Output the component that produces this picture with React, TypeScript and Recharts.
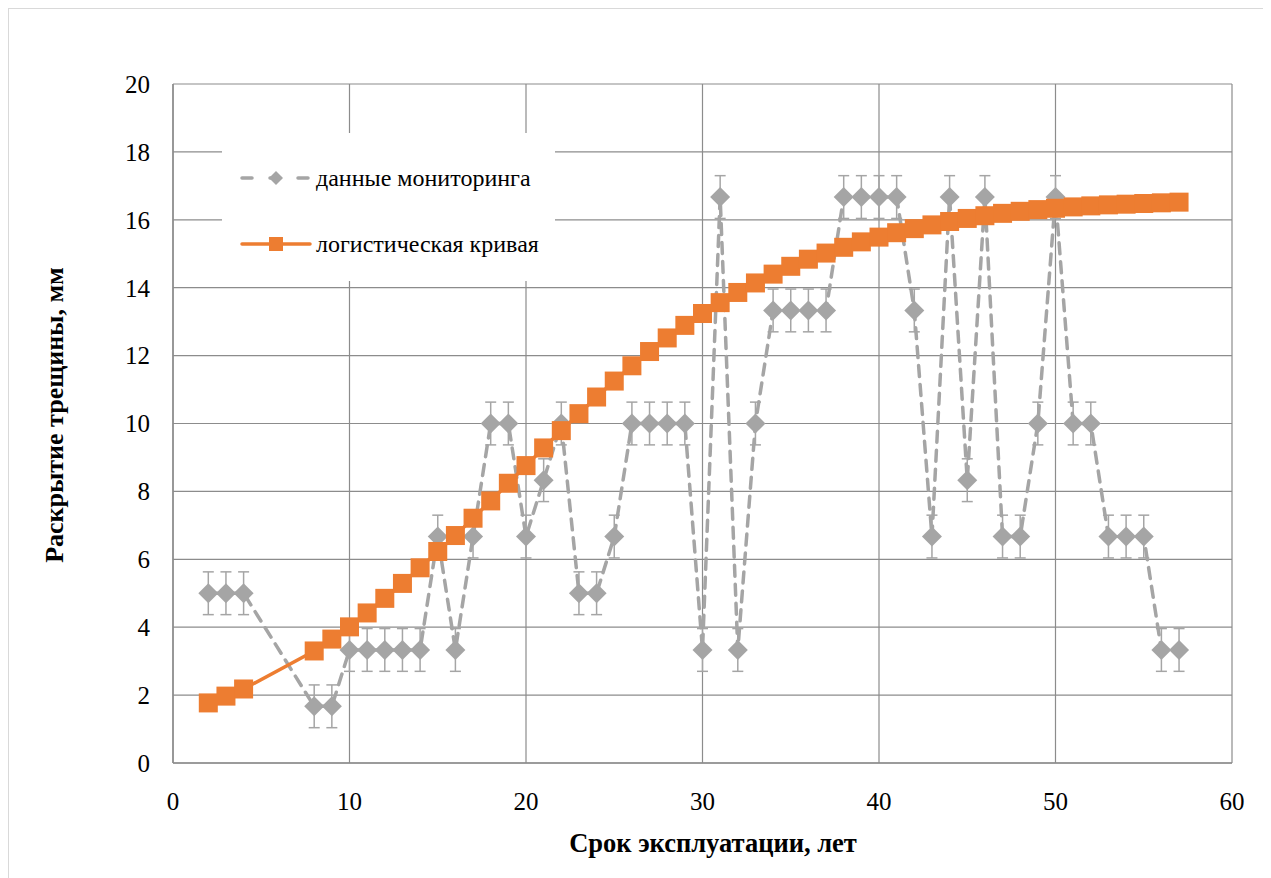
import { ComposedChart, Line, XAxis, YAxis, CartesianGrid, ErrorBar } from 'recharts';

// данные мониторинга (год, раскрытие, мм)
const monYears = [2, 3, 4, 8, 9, 10, 11, 12, 13, 14, 15, 16, 17, 18, 19, 20, 21, 22, 23, 24, 25, 26, 27, 28, 29, 30, 31, 32, 33, 34, 35, 36, 37, 38, 39, 40, 41, 42, 43, 44, 45, 46, 47, 48, 49, 50, 51, 52, 53, 54, 55, 56, 57];
const monValues = [5, 5, 5, 1.67, 1.67, 3.33, 3.33, 3.33, 3.33, 3.33, 6.67, 3.33, 6.67, 10, 10, 6.67, 8.33, 10, 5, 5, 6.67, 10, 10, 10, 10, 3.33, 16.67, 3.33, 10, 13.33, 13.33, 13.33, 13.33, 16.67, 16.67, 16.67, 16.67, 13.33, 6.67, 16.67, 8.33, 16.67, 6.67, 6.67, 10, 16.67, 10, 10, 6.67, 6.67, 6.67, 3.33, 3.33];
const monError = 0.63;

// логистическая кривая
const logYears = [2, 3, 4, 8, 9, 10, 11, 12, 13, 14, 15, 16, 17, 18, 19, 20, 21, 22, 23, 24, 25, 26, 27, 28, 29, 30, 31, 32, 33, 34, 35, 36, 37, 38, 39, 40, 41, 42, 43, 44, 45, 46, 47, 48, 49, 50, 51, 52, 53, 54, 55, 56, 57];
const logValues = [1.77, 1.97, 2.18, 3.3, 3.65, 4.01, 4.42, 4.85, 5.29, 5.75, 6.23, 6.7, 7.21, 7.72, 8.24, 8.76, 9.28, 9.79, 10.29, 10.78, 11.25, 11.7, 12.12, 12.52, 12.89, 13.24, 13.56, 13.86, 14.14, 14.4, 14.63, 14.84, 15.02, 15.19, 15.35, 15.49, 15.62, 15.74, 15.85, 15.95, 16.04, 16.12, 16.19, 16.25, 16.3, 16.34, 16.38, 16.41, 16.44, 16.46, 16.48, 16.5, 16.52];

const xTicks = [0, 10, 20, 30, 40, 50, 60];
const yTicks = [0, 2, 4, 6, 8, 10, 12, 14, 16, 18, 20];

const GREY = '#a5a5a5';
const ORANGE = '#ed7d31';
const GRID = '#8c8c8c';
const FONT = '"Liberation Serif", "Times New Roman", serif';

const monitoring = monYears.map((x, i) => ({ x, y: monValues[i], err: monError }));
const logistic = logYears.map((x, i) => ({ x, y: logValues[i] }));

const Diamond = (p: any) => {
  const { cx, cy } = p;
  if (cx == null || cy == null) return <g key={p.key} />;
  const r = 10;
  return <path key={p.key} d={`M${cx},${cy - r}L${cx + r},${cy}L${cx},${cy + r}L${cx - r},${cy}Z`} fill={GREY} />;
};

const Square = (p: any) => {
  const { cx, cy } = p;
  if (cx == null || cy == null) return <g key={p.key} />;
  const s = 9.5;
  return <rect key={p.key} x={cx - s} y={cy - s} width={s * 2} height={s * 2} fill={ORANGE} />;
};

export default function App() {
  return (
    <div style={{ position: 'relative', width: 1262, height: 872, border: '1px solid #d9d9d9', fontFamily: FONT }}>
      <ComposedChart width={1260} height={868} margin={{ top: 75, right: 37, left: 104, bottom: 54 }}>
        <CartesianGrid stroke={GRID} strokeWidth={1.2} />
        <XAxis
          type="number"
          dataKey="x"
          domain={[0, 60]}
          ticks={xTicks}
          tickSize={0}
          tickMargin={29}
          height={60}
          axisLine={{ stroke: GRID, strokeWidth: 1.5 }}
          tick={{ fill: '#000', fontSize: 25, fontFamily: FONT }}
        />
        <YAxis
          type="number"
          domain={[0, 20]}
          ticks={yTicks}
          tickSize={0}
          tickMargin={23}
          width={60}
          axisLine={{ stroke: GRID, strokeWidth: 1.5 }}
          tick={{ fill: '#000', fontSize: 25, fontFamily: FONT }}
        />
        <Line
          data={monitoring}
          dataKey="y"
          type="linear"
          stroke={GREY}
          strokeWidth={3.5}
          strokeDasharray="11 8"
          strokeLinecap="round"
          dot={Diamond}
          activeDot={false}
          isAnimationActive={false}
        >
          <ErrorBar dataKey="err" direction="y" width={5.5} stroke={GREY} strokeWidth={1.5} />
        </Line>
        <Line
          data={logistic}
          dataKey="y"
          type="linear"
          stroke={ORANGE}
          strokeWidth={3.5}
          dot={Square}
          activeDot={false}
          isAnimationActive={false}
        />
      </ComposedChart>

      <div
        style={{
          position: 'absolute',
          left: 213,
          top: 124,
          width: 333,
          height: 148,
          background: '#fff',
          fontSize: 24,
          fontFamily: FONT,
          color: '#000',
        }}
      >
        <div style={{ position: 'absolute', left: 18, top: 32, height: 26, display: 'flex', alignItems: 'center' }}>
          <svg width={72} height={20}>
            <line x1={2} y1={10} x2={70} y2={10} stroke={GREY} strokeWidth={3.5} strokeDasharray="10 18" strokeLinecap="round" />
            <path d="M36,3L43,10L36,17L29,10Z" fill={GREY} />
          </svg>
          <span style={{ marginLeft: 4, fontFamily: FONT }}>данные мониторинга</span>
        </div>
        <div style={{ position: 'absolute', left: 18, top: 98, height: 26, display: 'flex', alignItems: 'center' }}>
          <svg width={72} height={20}>
            <line x1={2} y1={10} x2={70} y2={10} stroke={ORANGE} strokeWidth={3.5} strokeLinecap="round" />
            <rect x={29} y={3} width={14} height={14} fill={ORANGE} />
          </svg>
          <span style={{ marginLeft: 4, fontFamily: FONT }}>логистическая кривая</span>
        </div>
      </div>

      <div
        style={{
          position: 'absolute',
          left: 46,
          top: 406,
          transform: 'translate(-50%, -50%) rotate(-90deg)',
          whiteSpace: 'nowrap',
          fontWeight: 'bold',
          fontSize: 26,
        }}
      >
        Раскрытие трещины, мм
      </div>
      <div
        style={{
          position: 'absolute',
          left: 704,
          top: 834,
          transform: 'translate(-50%, -50%)',
          whiteSpace: 'nowrap',
          fontWeight: 'bold',
          fontSize: 26.5,
        }}
      >
        Срок эксплуатации, лет
      </div>
    </div>
  );
}
